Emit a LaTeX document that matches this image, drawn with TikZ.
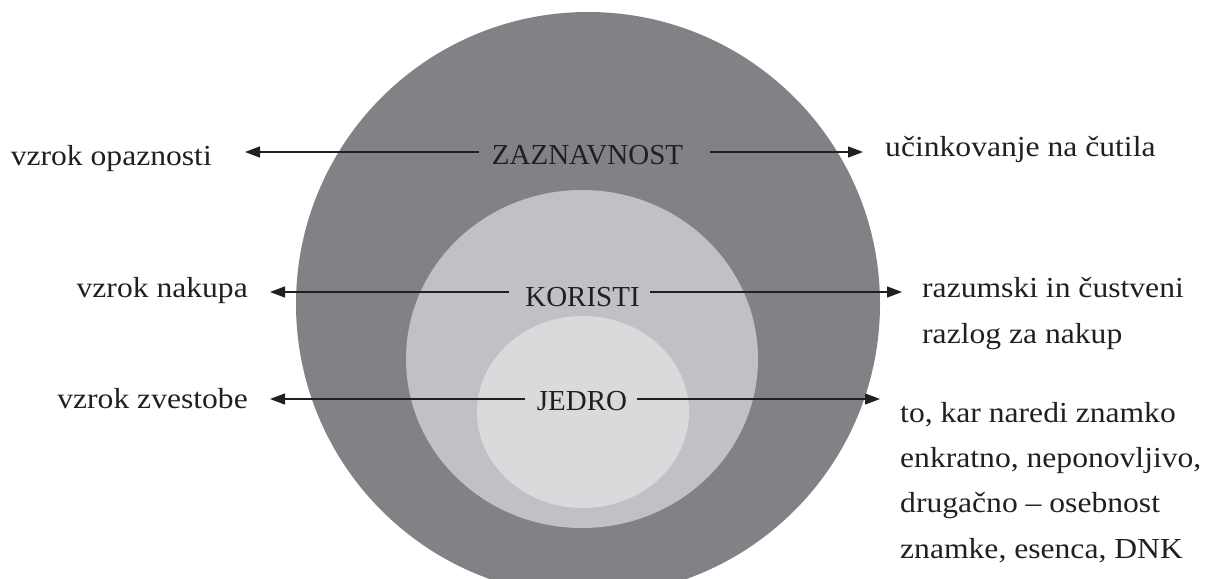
\documentclass[tikz,border=0pt]{standalone}
\usepackage{fontspec}
\setmainfont{Liberation Serif}
\newfontfamily\lblfont[FakeStretch=1.09]{Liberation Serif}
\usetikzlibrary{arrows.meta}
\definecolor{outerg}{HTML}{818286}
\definecolor{midg}{HTML}{C0C1C4}
\definecolor{inng}{HTML}{D9DADC}
\definecolor{ink}{HTML}{231F20}
\tikzset{
  lbl/.style={font=\lblfont\fontsize{29}{46}\selectfont, text=ink, inner sep=0pt},
  lblb/.style={font=\lblfont\fontsize{29}{45.3}\selectfont, text=ink, inner sep=0pt},
  ctr/.style={font=\fontsize{29}{35}\selectfont, text=ink, inner sep=0pt},
  arr/.style={draw=ink, line width=1.3pt, -{Triangle[length=15pt,width=11pt]}}
}
\begin{document}
\begin{tikzpicture}[x=1pt,y=-1pt]
\useasboundingbox (0,0) rectangle (1212,578);
\begin{scope}
  \clip (0,0) rectangle (1212,578);
  \fill[outerg] (588,304) circle [radius=292pt];
  \fill[midg] (582,359) ellipse [x radius=176pt, y radius=169pt];
  \fill[inng] (583,412) ellipse [x radius=106pt, y radius=96pt];
\end{scope}
% row 1
\node[ctr, anchor=base] (zaz) at (587.5,164) {ZAZNAVNOST};
\node[lbl, anchor=base east] (opaz) at (212,165) {vzrok opaznosti};
\node[lbl, anchor=base west] (cut) at (885,156) {učinkovanje na čutila};
\coordinate (r1) at (0,152);
\draw[arr] ([xshift=-13pt]zaz.west |- r1) -- ([xshift=33pt]opaz.east |- r1);
\draw[arr] ([xshift=27pt]zaz.east |- r1) -- ([xshift=-22pt]cut.west |- r1);
% row 2
\node[ctr, anchor=base] (kor) at (582.5,306) {KORISTI};
\node[lbl, anchor=base east] (nak) at (248,297) {vzrok nakupa};
\node[lbl, anchor=base west, align=left] (raz) at (922,343) {razumski in čustveni\\razlog za nakup};
\coordinate (r2) at (0,292);
\draw[arr] ([xshift=-16pt]kor.west |- r2) -- ([xshift=22pt]nak.east |- r2);
\draw[arr] ([xshift=10pt]kor.east |- r2) -- ([xshift=-20pt]raz.west |- r2);
% row 3
\node[ctr, anchor=base] (jed) at (582,410) {JEDRO};
\node[lbl, anchor=base east] (zve) at (248,408) {vzrok zvestobe};
\node[lblb, anchor=base west, align=left] (dnk) at (900,558) {to, kar naredi znamko\\enkratno, neponovljivo,\\drugačno – osebnost\\znamke, esenca, DNK};
\coordinate (r3) at (0,399);
\draw[arr] ([xshift=-12pt]jed.west |- r3) -- ([xshift=22pt]zve.east |- r3);
\draw[arr] ([xshift=10pt]jed.east |- r3) -- ([xshift=-20pt]dnk.west |- r3);
\end{tikzpicture}
\end{document}
